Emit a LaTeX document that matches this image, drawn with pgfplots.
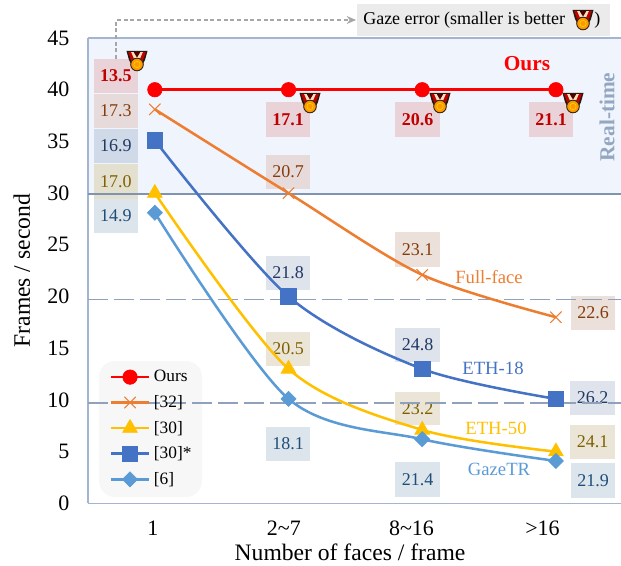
\documentclass[border=0pt]{standalone}
\usepackage{fontspec}
\setmainfont{Liberation Serif}
\usepackage{pgfplots}
\pgfplotsset{compat=1.18}
\usetikzlibrary{arrows.meta}
\definecolor{cours}{HTML}{FF0000}
\definecolor{cfull}{HTML}{ED7D31}
\definecolor{ceth}{HTML}{FFC000}
\definecolor{cethb}{HTML}{4472C4}
\definecolor{cgaze}{HTML}{5B9BD5}
\definecolor{frameblue}{HTML}{A3B5CF}
\definecolor{rtblue}{HTML}{93A6C2}
\definecolor{midline}{HTML}{8094B2}
\definecolor{dashline}{HTML}{8FA1BB}
\definecolor{band}{HTML}{F0F4FC}
\definecolor{tred}{HTML}{C00000}
\definecolor{tbrown}{HTML}{843C0C}
\definecolor{tnavy}{HTML}{203864}
\definecolor{tgold}{HTML}{7F6000}
\definecolor{tblue}{HTML}{1F4E79}
% value box, coordinates in image pixels
\newcommand{\vb}[7]{%
  \definecolor{vbfill}{HTML}{#6}%
  \fill[vbfill] (#1,#2) rectangle (#3,#4);
  \node[text=#7,font=\fontsize{13.5}{15}\selectfont,inner sep=0pt] at ({(#1+#3)/2},{(#2+#4)/2}) {#5};}
\newcommand{\medal}[2]{%
  \begin{scope}[shift={(#1,#2)}]
    \fill[black!80!brown] (-10.5,-10) -- (10.5,-10) -- (8,-1) -- (5,5) -- (-5,5) -- (-8,-1) -- cycle;
    \fill[red!75!black] (-8.8,-8.8) -- (8.8,-8.8) -- (5,2) -- (-5,2) -- cycle;
    \fill[orange!25] (-5.8,-8.8) -- (5.8,-8.8) -- (2,0) -- (-2,0) -- cycle;
    \fill[black!70!red] (-3.2,-8.8) -- (3.2,-8.8) -- (0,-3.5) -- cycle;
    \filldraw[fill=orange!80!yellow,draw=black!70!brown,line width=.7pt] (0,3.5) circle (6.3);
    \draw[yellow!80!orange,line width=.4pt] (0,3.5) circle (3.2);
  \end{scope}}
\begin{document}
\begin{tikzpicture}
\useasboundingbox (-66pt,-46.25pt) rectangle (399.75pt,377.5pt);
\begin{scope}[x=.75pt,y=-.75pt,shift={(-66pt,377.5pt)}]
  \fill[band] (88,38) rectangle (621,194);
  \draw[frameblue,line width=1.1pt] (88,38.2) -- (621,38.2);
  \fill[black!8] (357,4) rectangle (610,36);
  \draw[black!35,line width=.8pt,dash pattern=on 3pt off 2pt,-{Stealth[length=7pt,width=6pt]}] (116,59) -- (116,20) -- (356,20);
  \node[anchor=west,inner sep=0pt,font=\fontsize{13.5}{15}\selectfont] at (363,20.5) {Gaze error (smaller is better};
  \node[anchor=west,inner sep=0pt,font=\fontsize{13.5}{15}\selectfont] at (594,20.5) {)};
  \fill[black!3,rounded corners=12pt] (99,361) rectangle (202,497);
  \vb{94}{59}{138}{93}{\textbf{13.5}}{E9D3D8}{tred}
  \vb{94}{94}{138}{128}{17.3}{E6DBDA}{tbrown}
  \vb{94}{129}{138}{163}{16.9}{CFD9E7}{tnavy}
  \vb{94}{164}{138}{199}{17.0}{E4E0D0}{tgold}
  \vb{94}{199}{138}{233}{14.9}{DCE4EC}{tblue}
  \vb{266}{102}{310}{137}{\textbf{17.1}}{E9D3D8}{tred}
  \vb{266}{155}{310}{189}{20.7}{E6DBDA}{tbrown}
  \vb{266}{256}{310}{290}{21.8}{DFE3EC}{tnavy}
  \vb{266}{332}{310}{366}{20.5}{EBE5D8}{tgold}
  \vb{266}{427}{310}{461}{18.1}{DCE4EC}{tblue}
  \vb{395}{102}{440}{137}{\textbf{20.6}}{E9D3D8}{tred}
  \vb{395}{232}{440}{267}{23.1}{EBE0DA}{tbrown}
  \vb{395}{328}{440}{362}{24.8}{DFE3EC}{tnavy}
  \vb{395}{392}{440}{425}{23.2}{EBE5D8}{tgold}
  \vb{395}{462}{440}{497}{21.4}{DCE4EC}{tblue}
  \vb{529}{102}{573}{137}{\textbf{21.1}}{E9D3D8}{tred}
  \vb{571}{296}{615}{330}{22.6}{EBE0DA}{tbrown}
  \vb{570}{381}{615}{415}{26.2}{DFE3EC}{tnavy}
  \vb{570}{425}{615}{459}{24.1}{EBE5D8}{tgold}
  \vb{571}{463}{615}{498}{21.9}{DCE4EC}{tblue}
\end{scope}
\begin{axis}[
    at={(0pt,0pt)}, anchor=south west,
    scale only axis,
    width=399.75pt, height=349pt,
    xmin=-0.5, xmax=3.487,
    ymin=0, ymax=45,
    ytick={0,5,...,45},
    xtick={-0.015,0.965,1.92,2.9},
    xticklabels={1,2\textasciitilde7,8\textasciitilde16,>16},
    axis x line*=bottom, axis y line*=left,
    axis line style={frameblue,line width=1.1pt},
    tick style={draw=none},
    tick label style={font=\fontsize{16.5}{18}\selectfont},
    /pgf/number format/assume math mode=true,
    yticklabel style={xshift=-10.5pt},
    xticklabel style={yshift=-9.5pt},
    xlabel={Number of faces / frame},
    ylabel={Frames / second},
    label style={font=\fontsize{17.7}{19}\selectfont},
    xlabel style={at={(axis description cs:0.4916,-0.105)},anchor=center},
    ylabel style={at={(axis description cs:-0.124,0.5)},anchor=center},
    clip=false,
    smooth, tension=0.5,
    legend cell align=left,
    legend style={at={(axis description cs:0.041,0.292)},anchor=north west,
      fill=none,draw=none,inner sep=0pt,row sep=4.7pt,
      font=\fontsize{13}{14}\selectfont,
      /tikz/every odd column/.append style={column sep=1pt}},
    legend image code/.code={%
      \draw[mark repeat=2,mark phase=2,#1] plot coordinates {(0cm,0cm) (0.49cm,0cm) (0.98cm,0cm)};},
]
\addplot[forget plot,sharp plot,midline,line width=2pt] coordinates {(-0.5,29.9) (3.487,29.9)};
\addplot[forget plot,sharp plot,dashline,line width=1pt,dash pattern=on 15pt off 4.5pt] coordinates {(-0.5,19.7) (3.487,19.7)};
\addplot[forget plot,sharp plot,dashline,line width=1pt,dash pattern=on 15pt off 4.5pt] coordinates {(-0.5,9.7) (3.487,9.7)};
\addplot[cours,line width=2pt,mark=*,mark size=5.4pt,mark options={fill=cours,draw=cours,line width=.5pt}] coordinates {(0,40) (1,40) (2,40) (3,40)};
\addplot[cfull,line width=1.9pt,mark=x,mark size=6pt,mark options={line width=.8pt}] coordinates {(0,38.1) (1,30) (2,22.1) (3,18)};
\addplot[ceth,line width=1.9pt,mark=triangle*,mark size=6.4pt,mark options={fill=ceth,draw=ceth,line width=.5pt}] coordinates {(0,30) (1,13) (2,7.1) (3,5)};
\addplot[cethb,line width=1.9pt,mark=square*,mark size=5.8pt,mark options={fill=cethb,draw=cethb,line width=.5pt}] coordinates {(0,35.1) (1,20) (2,13) (3,10.1)};
\addplot[cgaze,line width=1.9pt,mark=square*,mark size=4pt,mark options={fill=cgaze,draw=cgaze,line width=.5pt,rotate=45}] coordinates {(0,28.1) (1,10.1) (2,6.2) (3,4.1)};
\legend{Ours,{}[32],{}[30],{}[30]*,{}[6]}
\end{axis}
\begin{scope}[x=.75pt,y=-.75pt,shift={(-66pt,377.5pt)}]
  \node[text=cours,font=\fontsize{16}{18}\selectfont\bfseries] at (527,64) {Ours};
  \node[text=rtblue,font=\fontsize{16}{18}\selectfont\bfseries,rotate=90] at (607,117) {Real-time};
  \node[text=cfull,font=\fontsize{14}{16}\selectfont] at (489,277) {Full-face};
  \node[text=cethb,font=\fontsize{14}{16}\selectfont] at (493,368) {ETH-18};
  \node[text=ceth,font=\fontsize{14}{16}\selectfont] at (496,428) {ETH-50};
  \node[text=cgaze,font=\fontsize{14}{16}\selectfont] at (499,469) {GazeTR};
  \medal{137}{61}
  \medal{310}{103}
  \medal{440}{103}
  \medal{573}{103}
  \medal{583}{20}
\end{scope}
\end{tikzpicture}
\end{document}
